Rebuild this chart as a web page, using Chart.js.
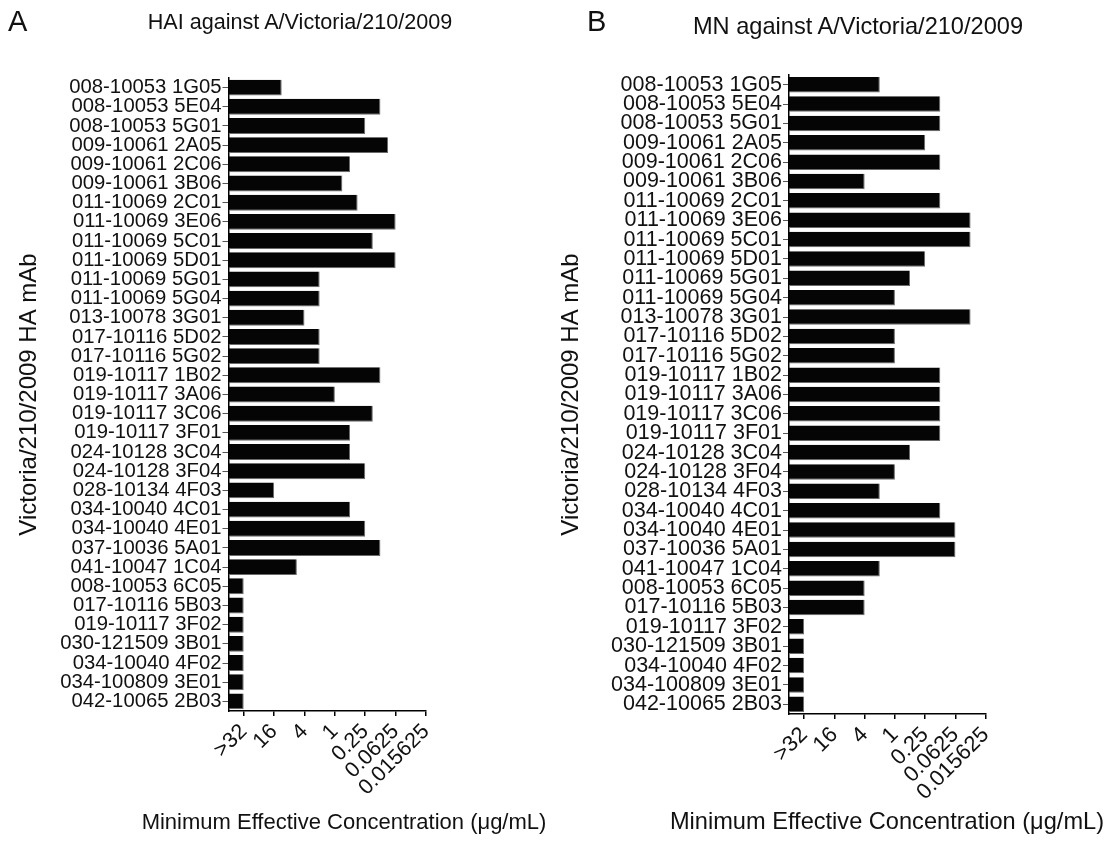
<!DOCTYPE html>
<html>
<head>
<meta charset="utf-8">
<script src="https://cdn.jsdelivr.net/npm/chart.js@4/dist/chart.umd.min.js"></script>
<style>
  body { margin: 0; background: #fff; }
  #wrap { position: relative; width: 1120px; height: 844px; background: #fff; font-family: 'Liberation Sans', Arial, sans-serif; color: #111; }
  .txt { position: absolute; line-height: 1; white-space: nowrap; }
  canvas { position: absolute; top: 0; }
</style>
</head>
<body>
<div id="wrap">
  <canvas id="hai" width="560" height="844" style="left:0"></canvas>
  <canvas id="mn" width="572" height="844" style="left:548px"></canvas>
</div>
<script>
// antibody names, top to bottom
const mabs = [
  '008-10053 1G05', '008-10053 5E04', '008-10053 5G01', '009-10061 2A05', '009-10061 2C06',
  '009-10061 3B06', '011-10069 2C01', '011-10069 3E06', '011-10069 5C01', '011-10069 5D01',
  '011-10069 5G01', '011-10069 5G04', '013-10078 3G01', '017-10116 5D02', '017-10116 5G02',
  '019-10117 1B02', '019-10117 3A06', '019-10117 3C06', '019-10117 3F01', '024-10128 3C04',
  '024-10128 3F04', '028-10134 4F03', '034-10040 4C01', '034-10040 4E01', '037-10036 5A01',
  '041-10047 1C04', '008-10053 6C05', '017-10116 5B03', '019-10117 3F02', '030-121509 3B01',
  '034-10040 4F02', '034-100809 3E01', '042-10065 2B03'
];

// ">32" is drawn one 4-fold step past 16
const GT32 = 64;

// minimum effective concentration, ug/mL
const haiValues = [
  11.3, 0.125, 0.25, 0.088, 0.5, 0.71, 0.354, 0.0625, 0.177, 0.0625,
  2, 2, 4, 2, 2, 0.125, 1, 0.177, 0.5, 0.5,
  0.25, 16, 0.5, 0.25, 0.125, 5.66, GT32, GT32, GT32, GT32,
  GT32, GT32, GT32
];
const mnValues = [
  2, 0.125, 0.125, 0.25, 0.125, 4, 0.125, 0.03125, 0.03125, 0.25,
  0.5, 1, 0.03125, 1, 1, 0.125, 0.125, 0.125, 0.125, 0.5,
  1, 2, 0.125, 0.0625, 0.0625, 2, 4, 4, GT32, GT32,
  GT32, GT32, GT32
];

const concTicks = [GT32, 16, 4, 1, 0.25, 0.0625, 0.015625];

const FONT = "'Liberation Sans', Arial, sans-serif";

function addText(str, x, baseline, size, anchor) {
  const d = document.createElement('div');
  d.className = 'txt';
  d.textContent = str;
  d.style.fontSize = size + 'px';
  d.style.top = (baseline - 0.8465 * size) + 'px';
  d.style.left = x + 'px';
  if (anchor === 'center') d.style.transform = 'translateX(-50%)';
  document.getElementById('wrap').appendChild(d);
}

function makePanel(id, values, cfg) {
  return new Chart(document.getElementById(id), {
    type: 'bar',
    data: {
      labels: mabs,
      datasets: [{
        data: values,
        base: 128,
        backgroundColor: '#050505',
        borderColor: '#6a6a6a',
        borderWidth: { right: 1, bottom: 1 },
        borderSkipped: false,
        barPercentage: cfg.barPct,
        categoryPercentage: 1
      }]
    },
    options: {
      indexAxis: 'y',
      responsive: false,
      animation: false,
      devicePixelRatio: 1,
      layout: { padding: { top: cfg.top, right: cfg.right, left: 0, bottom: 0 } },
      plugins: { legend: { display: false }, tooltip: { enabled: false } },
      scales: {
        x: {
          type: 'logarithmic',
          reverse: true,
          min: 0.015625,
          max: 128,
          afterFit: s => { s.height = 844 - cfg.bottom; },
          afterBuildTicks: s => { s.ticks = concTicks.map(v => ({ value: v })); },
          border: { display: true, color: '#000', width: 1.5 },
          grid: { display: true, drawOnChartArea: false, drawTicks: true, tickLength: 5, color: '#000', lineWidth: 1.5 },
          ticks: {
            autoSkip: false,
            minRotation: 45,
            maxRotation: 45,
            padding: 3,
            color: '#111',
            font: { family: FONT, size: cfg.xTickSize },
            callback: v => v === GT32 ? '>32' : String(v)
          }
        },
        y: {
          afterFit: s => { s.width = cfg.axisX; },
          border: { display: true, color: '#000', width: 1.5 },
          grid: { display: true, offset: false, drawOnChartArea: false, drawTicks: true, tickLength: 6, color: '#555', lineWidth: 1 },
          ticks: {
            autoSkip: false,
            padding: 1,
            color: '#111',
            font: { family: FONT, size: cfg.yTickSize }
          },
          title: {
            display: true,
            text: 'Victoria/210/2009 HA mAb',
            color: '#111',
            padding: { top: cfg.titlePad, bottom: 0 },
            font: { family: FONT, size: 24 }
          }
        }
      }
    }
  });
}

makePanel('hai', haiValues, {
  top: 78, bottom: 711, right: 134, axisX: 228.5,
  barPct: 0.83, xTickSize: 21.5, yTickSize: 20.3, titlePad: 15
});
makePanel('mn', mnValues, {
  top: 75, bottom: 714, right: 134.3, axisX: 241,
  barPct: 0.8, xTickSize: 22, yTickSize: 21.5, titlePad: 9
});

addText('A', 8, 32, 29);
addText('B', 587, 32, 29);
addText('HAI against A/Victoria/210/2009', 300, 29, 21.6, 'center');
addText('MN against A/Victoria/210/2009', 858, 35, 23.6, 'center');
addText('Minimum Effective Concentration (\u03bcg/mL)', 344, 830, 22, 'center');
addText('Minimum Effective Concentration (\u03bcg/mL)', 887, 830, 23.6, 'center');
</script>
</body>
</html>
